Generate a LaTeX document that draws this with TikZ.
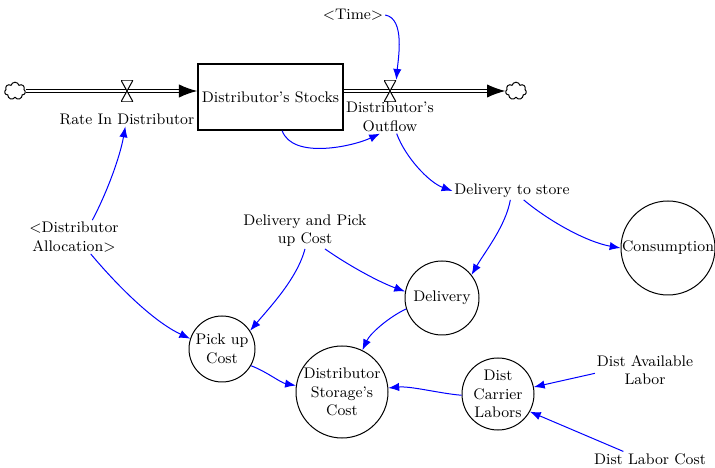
\documentclass[tikz,border=0pt]{standalone}
\usetikzlibrary{arrows.meta,shapes.symbols}
\tikzset{
    %Define standard arrow tip
    >={Latex[length=6.5pt,width=5pt]},
    %Define style for the stock box
    stock/.style={
           rectangle,
           draw=black, line width=0.9pt,
           minimum width=87pt,
           minimum height=39.6pt,
           inner sep=0pt,
           font=\fontsize{9.2}{11}\selectfont},
    % auxiliary variables
    aux/.style={
           circle,
           draw=black, line width=0.6pt,
           inner sep=0pt,
           align=center,
           font=\fontsize{9.2}{11}\selectfont},
    annote/.style={
          align=center,
          inner sep=1pt,
          font=\fontsize{9.2}{11}\selectfont
    },
    % clouds at the ends of the pipes
    source/.style={
           cloud, draw=black, line width=0.6pt,
           cloud puffs=7, aspect=1.2,
           minimum width=12.5pt, minimum height=10.5pt,
           inner sep=0pt},
    % hourglass valve on a pipe
    valve/.style={
           inner sep=0pt,
           minimum width=7.2pt, minimum height=13pt,
           path picture={
              \draw[fill=white, line width=0.6pt]
                 (path picture bounding box.north west) --
                 (path picture bounding box.north east) --
                 (path picture bounding box.south west) --
                 (path picture bounding box.south east) -- cycle;}},
    pipe/.style={
           draw=black,
           line width=0.7pt,
           double=white, double distance=1.5pt,
           -{Latex[length=11pt,width=8pt]}},
    % Define arrow style
    link/.style={
           ->,
           blue,
           looseness=0.8,
           line width=0.6pt},
}
\begin{document}
\begin{tikzpicture}[x=0.6pt,y=0.6pt]
\useasboundingbox (0,0) rectangle (715,-468);
% stock, clouds and pipes
\node[stock]  (stocks)  at (270.5,-97) {Distributor's Stocks};
\node[source] (srcIn)   at (15,-91) {};
\node[source] (sinkOut) at (516,-91) {};
\draw[pipe] (srcIn.east) -- (srcIn.east -| stocks.west);
\draw[pipe] (sinkOut.west -| stocks.east) -- (sinkOut.west);
\node[valve] (inValve)  at (127,-91) {};
\node[valve] (outValve) at (390,-91) {};
% labels
\node[annote] (rateIn)   at (127,-119) {Rate In Distributor};
\node[annote] (outflow)  at (390,-117) {Distributor's\\Outflow};
\node[annote] (time)     at (353,-15)  {<Time>};
\node[annote] (toStore)  at (512,-191) {Delivery to store};
\node[annote] (delPick)  at (305,-231) {Delivery and Pick\\up Cost};
\node[annote] (alloc)    at (74,-237)  {<Distributor\\Allocation>};
\node[annote] (availLab) at (645,-370) {Dist Available\\Labor};
\node[annote] (laborCost) at (650,-459) {Dist Labor Cost};
% circles
\node[aux, minimum size=56.4pt] (consumption) at (668,-248) {Consumption};
\node[aux, minimum size=44.4pt] (delivery)    at (442,-298) {Delivery};
\node[aux, minimum size=39.6pt] (pickup)      at (222,-349) {Pick up\\Cost};
\node[aux, minimum size=55.2pt] (storage)     at (342,-392) {Distributor\\Storage's\\Cost};
\node[aux, minimum size=43.2pt] (carrier)     at (498,-394) {Dist\\Carrier\\Labors};
% links
\draw[link] (time.east) to[out=-10, in=85] (outValve.north east);
\draw[link] ([xshift=7pt]stocks.south) to[out=-70, in=205] ([xshift=-6pt]outflow.south);
\draw[link] ([xshift=4pt]outflow.south) to[out=-70, in=160] (toStore.west);
\draw[link] ([xshift=7pt]toStore.south) to[out=-40, in=170] (consumption.west);
\draw[link] ([xshift=-1pt]toStore.south) to[out=-100, in=60] (delivery.38);
\draw[link] ([xshift=12pt]delPick.south) to[out=-35, in=160] (delivery.170);
\draw[link] (delPick.south) to[out=-105, in=50] (pickup.33);
\draw[link] ([xshift=11pt]alloc.north) to[out=62, in=-100] ([xshift=-1pt]rateIn.south);
\draw[link] ([xshift=10pt]alloc.south) to[out=-50, in=155] (pickup.162);
\draw[link] (pickup.-30) to[out=-20, in=170] (storage.172);
\draw[link] (delivery.197) to[out=205, in=65] (storage.64);
\draw[link] (carrier.182) to[out=175, in=5] (storage.5);
\draw[link] ([yshift=-2pt]availLab.west) -- (carrier.11);
\draw[link] ([xshift=-16pt]laborCost.north) -- (carrier.-29);
\end{tikzpicture}
\end{document}
